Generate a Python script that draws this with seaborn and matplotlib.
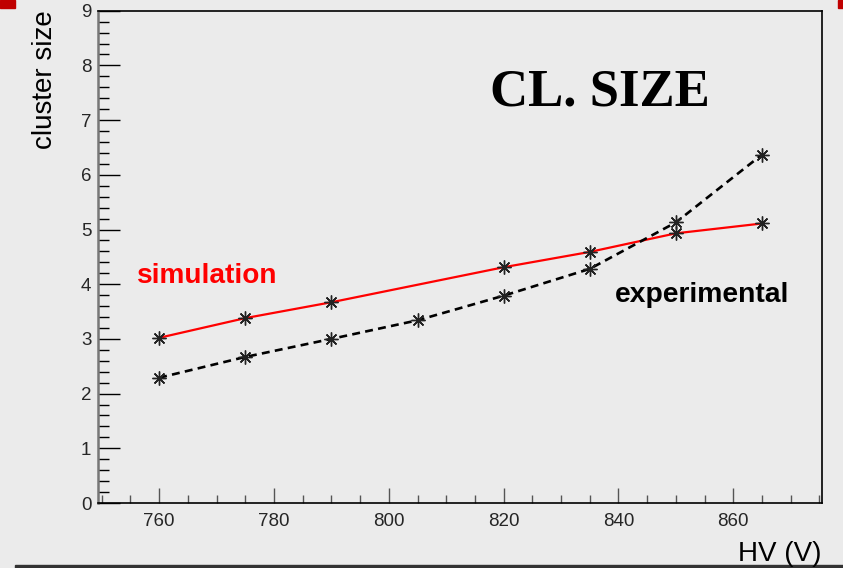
import matplotlib
matplotlib.use("Agg")
import matplotlib.pyplot as plt
from matplotlib.patches import Rectangle
from matplotlib.ticker import MultipleLocator, FixedLocator
import seaborn as sns
import pandas as pd

# Cluster size versus high voltage
hv_sim = [760, 775, 790, 820, 835, 850, 865]
cl_sim = [3.02, 3.38, 3.67, 4.31, 4.59, 4.93, 5.11]

hv_exp = [760, 775, 790, 805, 820, 835, 850, 865]
cl_exp = [2.29, 2.67, 3.00, 3.34, 3.79, 4.28, 5.13, 6.37]

x_ticks = [760, 780, 800, 820, 840, 860]
y_ticks = [0, 1, 2, 3, 4, 5, 6, 7, 8, 9]

df_sim = pd.DataFrame({"HV": hv_sim, "size": cl_sim})
df_exp = pd.DataFrame({"HV": hv_exp, "size": cl_exp})

BG = "#ebebeb"
sns.set_style("white", {"axes.facecolor": BG, "figure.facecolor": BG})
plt.rcParams["font.family"] = ["Liberation Sans", "DejaVu Sans"]

W, H = 843, 568
fig = plt.figure(figsize=(W / 100, H / 100), dpi=100, facecolor=BG)


def fx(px):
    return px / W


def fy(py):
    return 1 - py / H


ax = fig.add_axes([fx(98.3), fy(503), fx(822.3) - fx(98.3), fy(10.7) - fy(503)])
ax.set_facecolor(BG)

star = (8, 2, 0)
sns.lineplot(data=df_sim, x="HV", y="size", ax=ax, color="#ff0000", linewidth=1.6,
             marker=star, markersize=10, markeredgecolor="#222222",
             markeredgewidth=1.0, markerfacecolor="black", zorder=3)
sns.lineplot(data=df_exp, x="HV", y="size", ax=ax, color="black", linewidth=1.9,
             marker=star, markersize=10, markeredgecolor="#222222",
             markeredgewidth=1.0, markerfacecolor="black", zorder=3)
ax.lines[-1].set_dashes([3.0, 2.0])

ax.set_xlim(749.4, 875.5)
ax.set_ylim(0, 9)

ax.xaxis.set_major_locator(FixedLocator(x_ticks))
ax.xaxis.set_minor_locator(MultipleLocator(5))
ax.yaxis.set_major_locator(FixedLocator(y_ticks))
ax.yaxis.set_minor_locator(MultipleLocator(0.2))

ax.tick_params(axis="x", which="major", direction="in", length=11, width=1,
               color="#555555", labelsize=13.5, pad=7, bottom=True, top=False)
ax.tick_params(axis="x", which="minor", direction="in", length=5.5, width=1,
               color="#555555", bottom=True, top=False)
ax.tick_params(axis="y", which="major", direction="in", length=16, width=1,
               color="black", labelsize=13.5, pad=5, left=True, right=False)
ax.tick_params(axis="y", which="minor", direction="in", length=8, width=1,
               color="black", left=True, right=False)

for side in ["top", "right", "bottom", "left"]:
    ax.spines[side].set_visible(True)
    ax.spines[side].set_color("black")
    ax.spines[side].set_linewidth(1.2)
ax.spines["left"].set_color("#777777")
ax.spines["left"].set_linewidth(1.8)

ax.set_xlabel("")
ax.set_ylabel("")

fig.text(fx(45), fy(10), "cluster size", rotation=90, ha="center", va="top",
         fontsize=20, color="black")
fig.text(fx(822), fy(561), "HV (V)", ha="right", va="baseline",
         fontsize=20, color="black")

fig.text(fx(137), fy(283), "simulation", ha="left", va="baseline",
         fontsize=20.2, fontweight="bold", color="#ff0000")
fig.text(fx(615), fy(302), "experimental", ha="left", va="baseline",
         fontsize=20.3, fontweight="bold", color="black")
fig.text(fx(490), fy(105), "CL. SIZE", ha="left", va="baseline",
         fontsize=38, fontweight="bold", color="black",
         family=["Liberation Serif", "DejaVu Serif"])

# slide decorations
fig.patches.append(Rectangle((0, fy(8)), fx(15), fy(0) - fy(8),
                             transform=fig.transFigure, color="#c00000", zorder=0))
fig.patches.append(Rectangle((fx(838), fy(8)), fx(843) - fx(838), fy(0) - fy(8),
                             transform=fig.transFigure, color="#c00000", zorder=0))
fig.patches.append(Rectangle((fx(15), 0), 1 - fx(15), fy(565),
                             transform=fig.transFigure, color="#333333", zorder=0))

fig.savefig("out.png", dpi=100, facecolor=BG)
